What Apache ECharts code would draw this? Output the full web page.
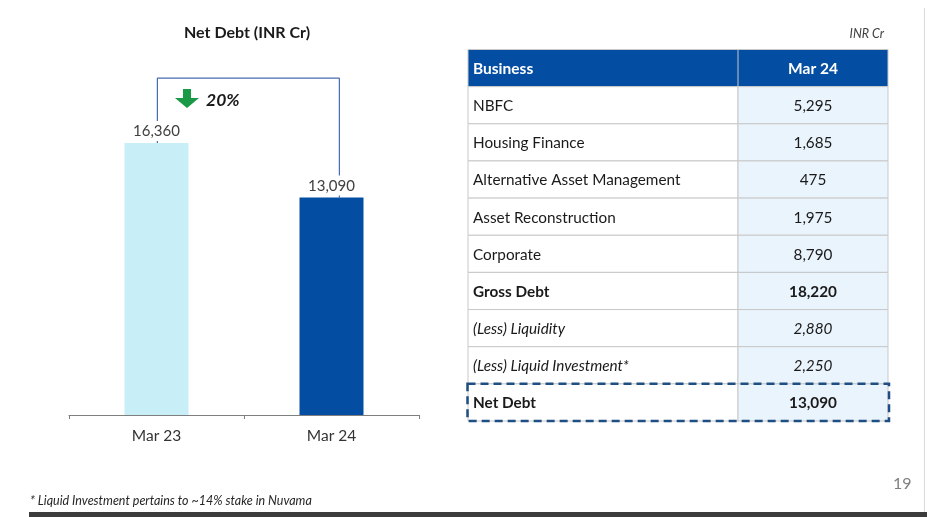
<!DOCTYPE html>
<html>
<head>
<meta charset="utf-8">
<script src="https://cdn.jsdelivr.net/npm/echarts@6/dist/echarts.min.js"></script>
<style>
html,body{margin:0;padding:0;background:#fff;}
#chart{width:927px;height:517px;}
</style>
</head>
<body>
<div id="chart"></div>
<script>
// ---- data ----
var barCategories = ['Mar 23', 'Mar 24'];
var netDebtValues = [16360, 13090];
var changeLabel = '20%';

var tableHeader = ['Business', 'Mar 24'];
var tableRows = ['NBFC', 'Housing Finance', 'Alternative Asset Management', 'Asset Reconstruction',
  'Corporate', 'Gross Debt', '(Less) Liquidity', '(Less) Liquid Investment*', 'Net Debt'];
var tableValues = [5295, 1685, 475, 1975, 8790, 18220, 2880, 2250, 13090];

var titleText = 'Net Debt (INR Cr)';
var unitText = 'INR Cr';
var footnoteText = '* Liquid Investment pertains to ~14% stake in Nuvama';
var pageNumber = '19';

// ---- styles (not data) ----
var FONT = 'Lato';
var boldRows = ['Gross Debt', 'Net Debt'];
var italicRows = ['(Less) Liquidity', '(Less) Liquid Investment*'];
var barColors = ['#c8eef7', '#034ea2'];

function fmt(v) { return v.toLocaleString('en-US'); }

var chart = echarts.init(document.getElementById('chart'), null, {renderer: 'canvas'});

// bracket path built from bar values
var bracketTop = 20270;
var bracketData = [[0.005, netDebtValues[0]], [0.005, bracketTop], [1.045, bracketTop], [1.045, netDebtValues[1]]];

var tableData = [];
tableData.push([0, tableHeader[0], tableHeader[1], 'header']);
for (var i = 0; i < tableRows.length; i++) {
  tableData.push([i + 1, tableRows[i], fmt(tableValues[i]), 'row']);
}
var rowCats = tableData.map(function (d) { return String(d[0]); });

function renderCell(params, api) {
  var idx = api.value(0);
  var d = tableData[params.dataIndex];
  var p0 = api.coord([0, idx]);
  var p1 = api.coord([1.8, idx]);
  var p2 = api.coord([2.8, idx]);
  var h = api.size([0, 1])[1];
  var top = p0[1] - h / 2;
  var x0 = p0[0], x1 = p1[0], x2 = p2[0];
  var cy = p0[1] + 1;
  var children = [];
  if (d[3] === 'header') {
    children.push({type: 'rect', shape: {x: x0, y: top, width: x2 - x0, height: h},
      style: {fill: '#034ea2', stroke: '#c8c8c8', lineWidth: 1}});
    children.push({type: 'line', shape: {x1: x1, y1: top, x2: x1, y2: top + h},
      style: {stroke: '#c8c8c8', lineWidth: 1}});
    children.push({type: 'text', style: {x: x0 + 5, y: cy, text: d[1], fill: '#fff',
      font: 'bold 15.5px ' + FONT, textAlign: 'left', textVerticalAlign: 'middle'}});
    children.push({type: 'text', style: {x: (x1 + x2) / 2, y: cy, text: d[2], fill: '#fff',
      font: 'bold 15.5px ' + FONT, textAlign: 'center', textVerticalAlign: 'middle'}});
  } else {
    var name = d[1];
    var weight = boldRows.indexOf(name) >= 0 ? 'bold ' : '';
    var style = italicRows.indexOf(name) >= 0 ? 'italic ' : '';
    var font = style + weight + '15.3px ' + FONT;
    children.push({type: 'rect', shape: {x: x0, y: top, width: x1 - x0, height: h},
      style: {fill: '#ffffff', stroke: '#c8c8c8', lineWidth: 1}});
    children.push({type: 'rect', shape: {x: x1, y: top, width: x2 - x1, height: h},
      style: {fill: '#eaf4fd', stroke: '#c8c8c8', lineWidth: 1}});
    children.push({type: 'text', style: {x: x0 + 5, y: cy, text: name, fill: '#1a1a1a',
      font: font, textAlign: 'left', textVerticalAlign: 'middle'}});
    children.push({type: 'text', style: {x: (x1 + x2) / 2, y: cy, text: d[2], fill: '#1a1a1a',
      font: font, textAlign: 'center', textVerticalAlign: 'middle'}});
    if (name === 'Net Debt') {
      children.push({type: 'rect', z2: 10, shape: {x: x0 - 0.5, y: top, width: x2 - x0 + 1.5, height: h},
        style: {fill: null, stroke: '#1f4e82', lineWidth: 2.5, lineDash: [8, 5]}});
    }
  }
  return {type: 'group', children: children};
}

var option = {
  backgroundColor: '#ffffff',
  animation: false,
  textStyle: {fontFamily: FONT},
  grid: [
    {left: 69, width: 350, top: 66, bottom: 102},
    {left: 468, width: 420, top: 49.5, height: 371.5}
  ],
  xAxis: [
    {type: 'category', gridIndex: 0, data: barCategories,
      axisLine: {lineStyle: {color: '#7f7f7f', width: 1}},
      axisTick: {show: true, length: 4, inside: false, lineStyle: {color: '#7f7f7f'}},
      axisLabel: {color: '#333', fontSize: 15.5, margin: 13, fontFamily: FONT}},
    {type: 'value', gridIndex: 0, min: -0.5, max: 1.5, show: false},
    {type: 'value', gridIndex: 1, min: 0, max: 2.8, show: false}
  ],
  yAxis: [
    {type: 'value', gridIndex: 0, min: 0, max: 21000, show: false, splitLine: {show: false}},
    {type: 'category', gridIndex: 1, data: rowCats, inverse: true, show: false}
  ],
  series: [
    {type: 'line', xAxisIndex: 1, yAxisIndex: 0, data: bracketData, z: 1,
      symbol: 'none', lineStyle: {color: '#4a6cb4', width: 1.2}, silent: true},
    {type: 'bar', xAxisIndex: 0, yAxisIndex: 0, z: 2, barWidth: 64,
      data: netDebtValues.map(function (v, i) { return {value: v, itemStyle: {color: barColors[i]}}; }),
      label: {show: true, position: 'top', distance: 2, formatter: function (p) { return fmt(p.value); },
        color: '#404040', fontSize: 15, fontFamily: FONT, backgroundColor: '#ffffff', padding: [3, 2, 2, 2]}},
    {type: 'custom', xAxisIndex: 2, yAxisIndex: 1, data: tableData.map(function (d) { return [d[0]]; }),
      renderItem: renderCell, encode: {x: [], y: 0}, silent: true}
  ],
  graphic: [
    {type: 'text', left: 184, top: 25, style: {text: titleText, font: 'bold 16px ' + FONT, fill: '#1a1a1a'}},
    {type: 'text', right: 43, top: 27, style: {text: unitText, font: 'italic 12.5px ' + FONT, fill: '#404040'}},
    {type: 'polygon', shape: {points: [[183, 89], [191, 89], [191, 98], [199, 98], [187, 108], [175, 98], [183, 98]]},
      style: {fill: '#1a9a46'}},
    {type: 'text', left: 206, top: 91, style: {text: changeLabel, font: 'italic bold 17.5px ' + FONT, fill: '#1a1a1a'}},
    {type: 'line', shape: {x1: 924.5, y1: 8, x2: 924.5, y2: 512}, style: {stroke: '#d9d9d9', lineWidth: 1}},
    {type: 'text', left: 893, top: 476, style: {text: pageNumber, font: '16px ' + FONT, fill: '#7f7f7f'}},
    {type: 'text', left: 30, top: 494, style: {text: footnoteText, font: 'italic 12.5px ' + FONT, fill: '#262626'}},
    {type: 'rect', shape: {x: 29, y: 512, width: 898, height: 5}, style: {fill: '#3c3c3c'}}
  ]
};
chart.setOption(option);
</script>
</body>
</html>
